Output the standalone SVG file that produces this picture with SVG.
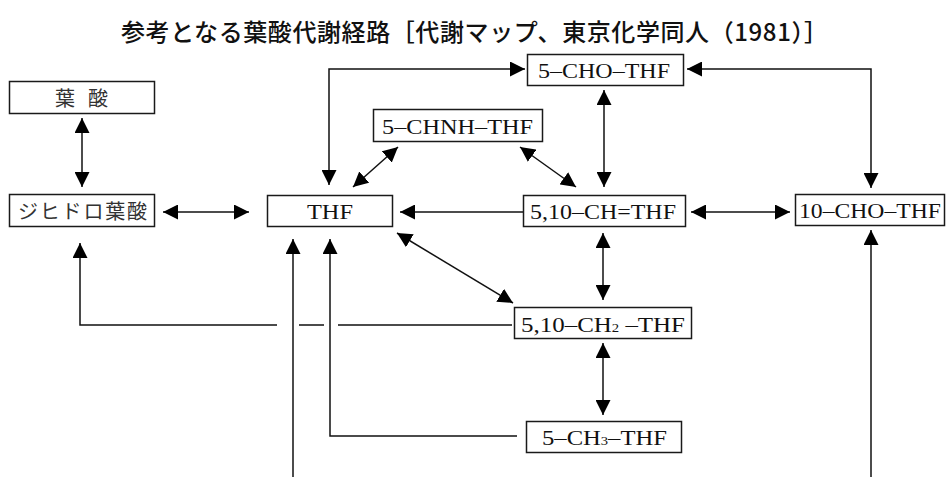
<svg xmlns="http://www.w3.org/2000/svg" width="946" height="477" viewBox="0 0 946 477">
<style>
.box{fill:#fff;stroke:#1a1a1a;stroke-width:1.5}
.lbl{font-family:"Liberation Serif","Noto Sans CJK JP",serif;font-size:22px;fill:#111;text-anchor:middle}
.jp{font-family:"Liberation Serif","Noto Sans CJK JP",serif;font-size:20px;fill:#333;text-anchor:middle}
.ttl{font-family:"Noto Sans CJK JP","Liberation Sans",sans-serif;font-size:24px;font-weight:500;fill:#111}
.c{fill:none;stroke:#111;stroke-width:1.5}
.ab{marker-start:url(#ah);marker-end:url(#ah)}
.ae{marker-end:url(#ah)}
.sub{font-size:13px}
</style>
<defs>
<marker id="ah" viewBox="0 0 15 15" refX="15" refY="7.5" markerWidth="15" markerHeight="15" markerUnits="userSpaceOnUse" orient="auto-start-reverse">
<path d="M0,0 L15,7.5 L0,15 z" fill="#000"/>
</marker>
</defs>
<rect width="946" height="477" fill="#fff"/>
<text class="ttl" x="121" y="41" textLength="707" lengthAdjust="spacing">参考となる葉酸代謝経路［代謝マップ、東京化学同人（1981）］</text>

<g id="connectors">
<line class="c ab" x1="82" y1="118" x2="82" y2="187"/>
<line class="c ab" x1="163" y1="212" x2="249" y2="212"/>
<path class="c ab" d="M329,185 V69 H525"/>
<path class="c ab" d="M687,69 H871 V188"/>
<line class="c ab" x1="353" y1="187" x2="398" y2="147"/>
<line class="c ab" x1="520" y1="147" x2="576" y2="187"/>
<line class="c ab" x1="604" y1="90" x2="604" y2="187"/>
<line class="c ae" x1="523" y1="212" x2="400" y2="212"/>
<line class="c ab" x1="691" y1="212" x2="790" y2="212"/>
<line class="c ab" x1="397" y1="233" x2="513" y2="303"/>
<line class="c ab" x1="603" y1="233" x2="603" y2="300"/>
<line class="c ab" x1="603" y1="343" x2="603" y2="415"/>
<path class="c" d="M512,325 H338 M324,325 H299"/>
<path class="c ae" d="M277,325 H80 V243"/>
<path class="c ae" d="M517,436 H330 V239"/>
<line class="c ae" x1="293" y1="477" x2="293" y2="239"/>
<line class="c ae" x1="871" y1="477" x2="871" y2="230"/>
</g>

<g id="folic">
<rect class="box" x="9.5" y="81.5" width="145" height="32"/>
<text class="jp" x="81.5" y="106" textLength="53" lengthAdjust="spacing">葉 酸</text>
</g>
<g id="dhf">
<rect class="box" x="9.5" y="194.5" width="145" height="32"/>
<text class="jp" x="82.5" y="219" textLength="129" lengthAdjust="spacing">ジヒドロ葉酸</text>
</g>
<g id="thf">
<rect class="box" x="267.5" y="195.5" width="125" height="31"/>
<text class="lbl" x="330" y="219" textLength="46" lengthAdjust="spacingAndGlyphs">THF</text>
</g>
<g id="chnh">
<rect class="box" x="373.5" y="109.5" width="169" height="32"/>
<text class="lbl" x="457.5" y="134" textLength="151" lengthAdjust="spacingAndGlyphs">5–CHNH–THF</text>
</g>
<g id="cho5">
<rect class="box" x="527.5" y="54.5" width="156" height="31"/>
<text class="lbl" x="604" y="78" textLength="132" lengthAdjust="spacingAndGlyphs">5–CHO–THF</text>
</g>
<g id="ch">
<rect class="box" x="523.5" y="195.5" width="162" height="31"/>
<text class="lbl" x="603" y="219" textLength="146" lengthAdjust="spacingAndGlyphs">5,10–CH=THF</text>
</g>
<g id="cho10">
<rect class="box" x="795.5" y="194.5" width="149" height="31"/>
<text class="lbl" x="870" y="218" textLength="142" lengthAdjust="spacingAndGlyphs">10–CHO–THF</text>
</g>
<g id="ch2">
<rect class="box" x="514.5" y="307.5" width="177" height="31"/>
<text class="lbl" x="603" y="332" textLength="164" lengthAdjust="spacingAndGlyphs">5,10–CH<tspan class="sub">2</tspan>  –THF</text>
</g>
<g id="ch3">
<rect class="box" x="526.5" y="421.5" width="155" height="31"/>
<text class="lbl" x="604.5" y="445" textLength="125" lengthAdjust="spacingAndGlyphs">5–CH<tspan class="sub">3</tspan>–THF</text>
</g>
</svg>
